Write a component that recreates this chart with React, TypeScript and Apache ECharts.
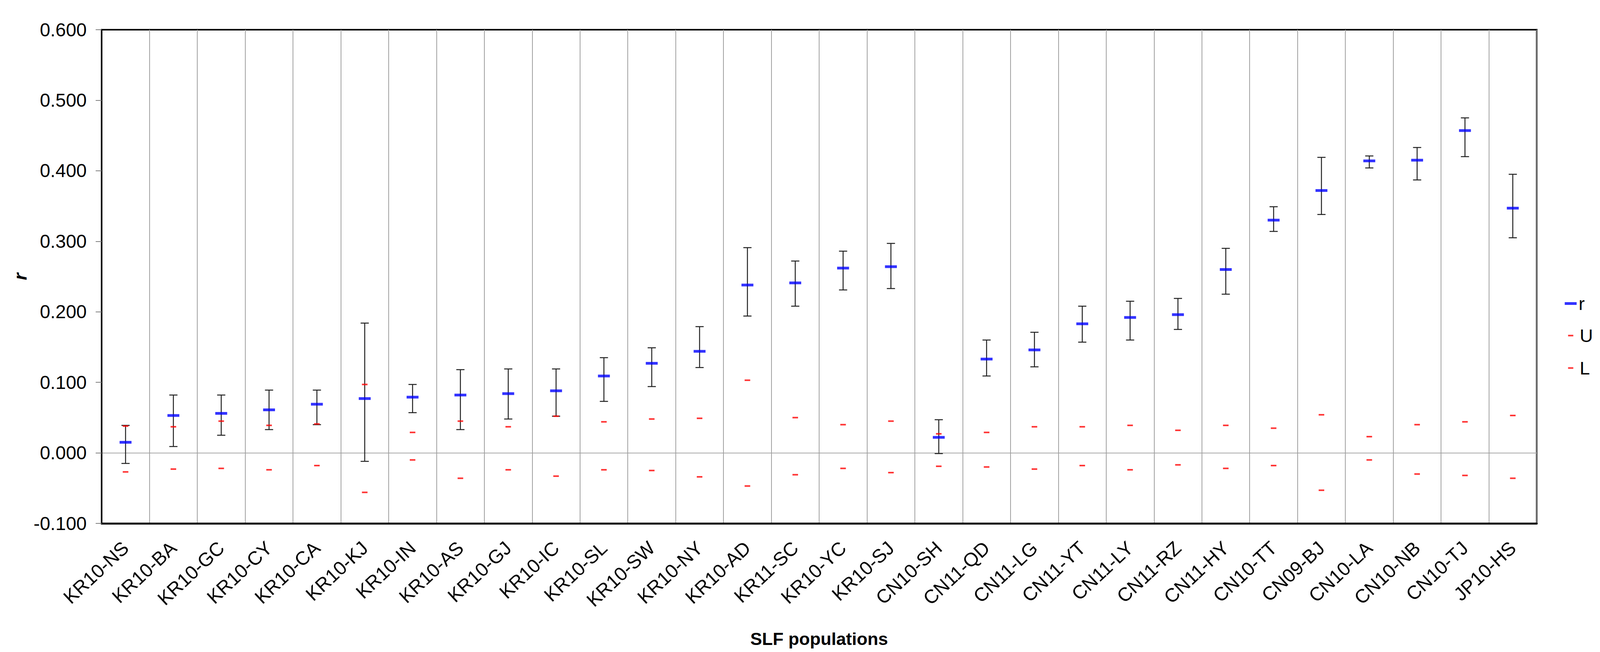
import React, { useEffect, useRef } from "react";
import * as echarts from "echarts";

const categories = [
  "KR10-NS", "KR10-BA", "KR10-GC", "KR10-CY", "KR10-CA", "KR10-KJ", "KR10-IN", "KR10-AS",
  "KR10-GJ", "KR10-IC", "KR10-SL", "KR10-SW", "KR10-NY", "KR10-AD", "KR11-SC", "KR10-YC",
  "KR10-SJ", "CN10-SH", "CN11-QD", "CN11-LG", "CN11-YT", "CN11-LY", "CN11-RZ", "CN11-HY",
  "CN10-TT", "CN09-BJ", "CN10-LA", "CN10-NB", "CN10-TJ", "JP10-HS",
];

const rValues = [
  0.015, 0.053, 0.056, 0.061, 0.069, 0.077, 0.079, 0.082, 0.084, 0.088, 0.109, 0.127, 0.144, 0.238, 0.241,
  0.262, 0.264, 0.022, 0.133, 0.146, 0.183, 0.192, 0.196, 0.260, 0.330, 0.372, 0.414, 0.415, 0.457, 0.347,
];

const errHigh = [
  0.039, 0.082, 0.082, 0.089, 0.089, 0.184, 0.097, 0.118, 0.119, 0.119, 0.135, 0.149, 0.179, 0.291, 0.272,
  0.286, 0.297, 0.047, 0.160, 0.171, 0.208, 0.215, 0.219, 0.290, 0.349, 0.419, 0.421, 0.433, 0.475, 0.395,
];

const errLow = [
  -0.015, 0.009, 0.025, 0.033, 0.040, -0.012, 0.057, 0.033, 0.048, 0.052, 0.073, 0.094, 0.121, 0.194, 0.208,
  0.231, 0.233, -0.001, 0.109, 0.122, 0.157, 0.160, 0.175, 0.225, 0.314, 0.338, 0.404, 0.387, 0.420, 0.305,
];

const uValues = [
  0.038, 0.037, 0.045, 0.039, 0.041, 0.097, 0.029, 0.045, 0.037, 0.052, 0.044, 0.048, 0.049, 0.103, 0.050,
  0.040, 0.045, 0.027, 0.029, 0.037, 0.037, 0.039, 0.032, 0.039, 0.035, 0.054, 0.023, 0.040, 0.044, 0.053,
];

const lValues = [
  -0.027, -0.023, -0.022, -0.024, -0.018, -0.056, -0.010, -0.036, -0.024, -0.033, -0.024, -0.025, -0.034, -0.047, -0.031,
  -0.022, -0.028, -0.019, -0.020, -0.023, -0.018, -0.024, -0.017, -0.022, -0.018, -0.053, -0.010, -0.030, -0.032, -0.036,
];

const yTickMin = -0.1;
const yTickMax = 0.6;
const yTickStep = 0.1;

const FONT = 'Arial, "Liberation Sans", sans-serif';
const REF_W = 4298;
const REF_H = 1668;

export default function App() {
  const ref = useRef<HTMLDivElement>(null);
  const W = Math.min(REF_W, typeof window !== "undefined" ? window.innerWidth : REF_W);
  const H = REF_H;

  useEffect(() => {
    if (!ref.current) return;
    const chart = echarts.init(ref.current, undefined, { renderer: "svg" });
    const sx = W / REF_W;

    const errData = categories.map((_, i) => [i, errLow[i], errHigh[i]]);
    const nTicks = Math.round((yTickMax - yTickMin) / yTickStep) + 1;
    const splitColors = Array.from({ length: nTicks }, (_, k) =>
      Math.abs(yTickMin + k * yTickStep) < 1e-9 ? "#a8a8a8" : "rgba(0,0,0,0)"
    );

    const legendText = { fontSize: 47, color: "#000", fontFamily: FONT };

    chart.setOption({
      animation: false,
      backgroundColor: "#ffffff",
      grid: {
        left: 273 * sx,
        top: 76,
        width: 3855 * sx,
        height: 1263,
        show: true,
        borderColor: "#000",
        borderWidth: 4,
        backgroundColor: "transparent",
      },
      legend: [
        {
          orient: "vertical",
          selectedMode: false,
          left: 4198 * sx,
          top: 748,
          itemWidth: 32 * sx,
          itemHeight: 7,
          textStyle: legendText,
          data: [{ name: "r", icon: "rect" }],
        },
        {
          orient: "vertical",
          selectedMode: false,
          left: 4207 * sx,
          top: 830,
          itemWidth: 14 * sx,
          itemHeight: 4,
          textStyle: { ...legendText, padding: [0, 0, 0, 12 * sx] },
          data: [{ name: "U", icon: "rect" }],
        },
        {
          orient: "vertical",
          selectedMode: false,
          left: 4207 * sx,
          top: 913,
          itemWidth: 14 * sx,
          itemHeight: 4,
          textStyle: { ...legendText, padding: [0, 0, 0, 12 * sx] },
          data: [{ name: "L", icon: "rect" }],
        },
      ],
      xAxis: {
        type: "category",
        data: categories,
        boundaryGap: true,
        name: "SLF populations",
        nameLocation: "middle",
        nameGap: 273,
        nameTextStyle: { fontSize: 45, fontWeight: "bold", color: "#000", fontFamily: FONT },
        axisLine: { show: true, onZero: false, lineStyle: { color: "#000", width: 5 } },
        axisTick: { show: false },
        splitLine: { show: true, lineStyle: { color: "#a0a0a0", width: 2 } },
        axisLabel: {
          interval: 0,
          rotate: 43,
          fontSize: 49,
          color: "#000",
          fontFamily: FONT,
          margin: 55,
        },
      },
      yAxis: {
        type: "value",
        min: yTickMin,
        max: yTickMax,
        interval: yTickStep,
        name: "r",
        nameLocation: "middle",
        nameRotate: 90,
        nameGap: 193 * sx,
        nameTextStyle: { fontSize: 47, fontWeight: "bold", fontStyle: "italic", color: "#000", fontFamily: FONT },
        axisLine: { show: true, onZero: false, lineStyle: { color: "#000", width: 3 } },
        axisTick: { show: true, length: 16 * sx, lineStyle: { color: "#808080", width: 2 } },
        splitLine: { show: true, lineStyle: { color: splitColors, width: 2 } },
        axisLabel: {
          fontSize: 48,
          color: "#000",
          fontFamily: FONT,
          margin: 40 * sx,
          formatter: (v: number) => v.toFixed(3),
        },
      },
      series: [
        {
          type: "custom",
          name: "err",
          data: errData,
          encode: { x: 0, y: [1, 2] },
          silent: true,
          z: 3,
          renderItem: (params: any, api: any) => {
            const x = api.value(0);
            const lo = api.coord([x, api.value(1)]);
            const hi = api.coord([x, api.value(2)]);
            const hw = 11 * sx;
            const st = { stroke: "#222", lineWidth: 2.5 };
            return {
              type: "group",
              children: [
                { type: "line", shape: { x1: hi[0], y1: hi[1], x2: lo[0], y2: lo[1] }, style: st },
                { type: "line", shape: { x1: hi[0] - hw, y1: hi[1], x2: hi[0] + hw, y2: hi[1] }, style: st },
                { type: "line", shape: { x1: lo[0] - hw, y1: lo[1], x2: lo[0] + hw, y2: lo[1] }, style: st },
              ],
            };
          },
        },
        {
          type: "scatter",
          name: "r",
          data: rValues,
          symbol: "rect",
          symbolSize: [32 * sx, 7],
          itemStyle: { color: "#0000ff" },
          z: 4,
        },
        {
          type: "scatter",
          name: "U",
          data: uValues,
          symbol: "rect",
          symbolSize: [15 * sx, 4],
          itemStyle: { color: "#ff0000" },
          z: 5,
        },
        {
          type: "scatter",
          name: "L",
          data: lValues,
          symbol: "rect",
          symbolSize: [15 * sx, 4],
          itemStyle: { color: "#ff0000" },
          z: 5,
        },
      ],
    });

    return () => chart.dispose();
  }, []);

  return (
    <div
      ref={ref}
      style={{ position: "fixed", left: 0, top: 0, width: W, height: H, background: "#fff" }}
    />
  );
}
